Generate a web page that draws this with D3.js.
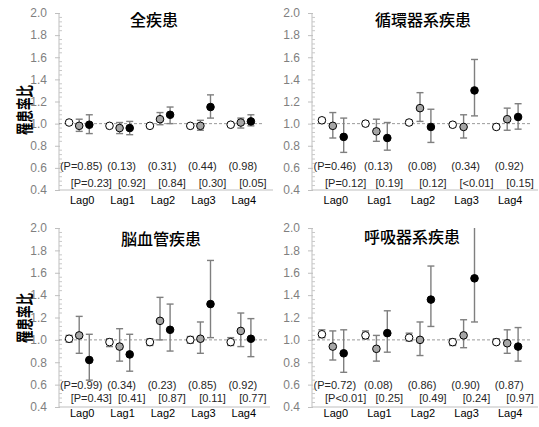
<!DOCTYPE html>
<html>
<head>
<meta charset="utf-8">
<script src="https://cdn.jsdelivr.net/npm/d3@7"></script>
<style>
body { margin: 0; background: #fff; }
text { font-family: "Liberation Sans", Arial, sans-serif; }
.jp { font-family: "Noto Sans CJK JP", sans-serif; }
</style>
</head>
<body>
<div class="container"></div>
<script>
var titles = ["全疾患", "循環器系疾患", "脳血管疾患", "呼吸器系疾患"];
var lags = ["Lag0", "Lag1", "Lag2", "Lag3", "Lag4"];
var yTicks = [0.4, 0.6, 0.8, 1.0, 1.2, 1.4, 1.6, 1.8, 2.0];

var pMain = [["(P=0.85)", "(0.13)", "(0.31)", "(0.44)", "(0.98)"],
             ["(P=0.46)", "(0.13)", "(0.08)", "(0.34)", "(0.92)"],
             ["(P=0.99)", "(0.34)", "(0.23)", "(0.85)", "(0.92)"],
             ["(P=0.72)", "(0.08)", "(0.86)", "(0.90)", "(0.87)"]];
var pSub = [["[P=0.23]", "[0.92]", "[0.84]", "[0.30]", "[0.05]"],
            ["[P=0.12]", "[0.19]", "[0.12]", "[<0.01]", "[0.15]"],
            ["[P=0.43]", "[0.41]", "[0.87]", "[0.11]", "[0.77]"],
            ["[P<0.01]", "[0.25]", "[0.49]", "[0.24]", "[0.97]"]];

// white markers
var openEst = [[1.01, 0.98, 0.98, 0.98, 0.99], [1.03, 1.00, 1.01, 0.99, 0.97],
               [1.01, 0.98, 0.98, 1.00, 0.98], [1.05, 1.04, 1.02, 0.98, 0.98]];
var openLo = [[1.00, 0.97, 0.97, 0.97, 0.98], [1.01, 0.98, 0.99, 0.97, 0.95],
              [0.98, 0.94, 0.95, 0.97, 0.95], [1.02, 1.01, 0.99, 0.95, 0.96]];
var openHi = [[1.02, 0.99, 0.99, 0.99, 1.00], [1.05, 1.02, 1.03, 1.01, 0.99],
              [1.04, 1.01, 1.01, 1.03, 1.02], [1.09, 1.08, 1.06, 1.01, 1.01]];
// grey markers
var greyEst = [[0.98, 0.96, 1.04, 0.98, 1.01], [0.98, 0.93, 1.14, 0.97, 1.04],
               [1.04, 0.94, 1.17, 1.01, 1.08], [0.94, 0.92, 1.00, 1.04, 0.97]];
var greyLo = [[0.93, 0.91, 0.99, 0.94, 0.96], [0.87, 0.84, 1.02, 0.87, 0.94],
              [0.88, 0.81, 1.00, 0.88, 0.94], [0.82, 0.81, 0.86, 0.93, 0.88]];
var greyHi = [[1.04, 1.01, 1.10, 1.03, 1.05], [1.10, 1.04, 1.28, 1.08, 1.14],
              [1.21, 1.10, 1.38, 1.16, 1.24], [1.08, 1.04, 1.16, 1.18, 1.09]];
// black markers
var blackEst = [[0.99, 0.96, 1.08, 1.15, 1.02], [0.88, 0.87, 0.97, 1.30, 1.06],
                [0.82, 0.87, 1.09, 1.32, 1.01], [0.88, 1.06, 1.36, 1.55, 0.94]];
var blackLo = [[0.91, 0.90, 1.00, 1.05, 0.98], [0.74, 0.76, 0.83, 1.07, 0.95],
               [0.64, 0.72, 0.90, 1.02, 0.85], [0.71, 0.89, 1.12, 1.16, 0.81]];
var blackHi = [[1.08, 1.02, 1.15, 1.26, 1.08], [1.05, 1.01, 1.13, 1.58, 1.18],
               [1.05, 1.05, 1.32, 1.71, 1.19], [1.09, 1.26, 1.66, 2.10, 1.11]];

var width = 539, height = 427;

var svg = d3.select("div.container").append("svg")
    .attr("width", width)
    .attr("height", height);

// panel frames
var panels = [
    {ax: 59,  xr: [59, 261],  refEnd: 262, baseEnd: 273, yr: [190, 13],  tx: 154, ty: 26,  r1: 170, r2: 187, lagY: 204, yl: 110},
    {ax: 312, xr: [311, 529], refEnd: 530, baseEnd: 538, yr: [190, 13],  tx: 423, ty: 26,  r1: 170, r2: 187, lagY: 204},
    {ax: 59,  xr: [59, 261],  refEnd: 268, baseEnd: 270, yr: [407, 228], tx: 161, ty: 245, r1: 389, r2: 402, lagY: 417, yl: 318},
    {ax: 312, xr: [311, 529], refEnd: 530, baseEnd: 538, yr: [407, 228], tx: 412, ty: 243, r1: 389, r2: 402, lagY: 417}
];

var series = [
    {est: openEst,  lo: openLo,  hi: openHi,  off: 0, fill: "#fff"},
    {est: greyEst,  lo: greyLo,  hi: greyHi,  off: 1, fill: "#a6a6a6"},
    {est: blackEst, lo: blackLo, hi: blackHi, off: 2, fill: "#000"}
];

panels.forEach(function(p, pi) {
    var x = d3.scaleLinear().domain([-1, 19]).range(p.xr);
    var y = d3.scaleLinear().domain([0.4, 2.0]).range(p.yr);
    var g = svg.append("g");

    // y axis with minor ticks
    var axis = d3.axisLeft(y).tickValues(yTicks).tickFormat(d3.format(".1f"))
        .tickSize(4).tickPadding(8);
    var ag = g.append("g").attr("transform", "translate(" + p.ax + ",0)").call(axis);
    ag.select(".domain").attr("stroke", "#bfbfbf").attr("d", "M0," + y(2.0) + "V" + y(0.4));
    ag.selectAll(".tick line").attr("stroke", "#bfbfbf").attr("x2", -4).attr("x1", 1);
    ag.selectAll(".tick text").attr("fill", "#7f7f7f").style("font-size", "12px")
        .style("font-family", "'Liberation Sans', Arial, sans-serif");
    var minors = d3.range(0.44, 2.0, 0.04).filter(function(v) {
        return Math.abs(Math.round(v * 5) - v * 5) > 0.01;
    });
    g.selectAll(".minor").data(minors).enter().append("line")
        .attr("x1", p.ax).attr("x2", p.ax + 3)
        .attr("y1", function(d) { return y(d); }).attr("y2", function(d) { return y(d); })
        .attr("stroke", "#c8c8c8");

    // baseline
    g.append("line")
        .attr("x1", p.ax).attr("x2", p.baseEnd)
        .attr("y1", y(0.4)).attr("y2", y(0.4))
        .attr("stroke", "#bfbfbf");

    // reference line at 1.0
    g.append("line")
        .attr("x1", p.ax).attr("x2", p.refEnd)
        .attr("y1", y(1)).attr("y2", y(1))
        .attr("stroke", "#808080").attr("stroke-width", 0.8)
        .attr("stroke-dasharray", "3,2");

    // title
    g.append("text").attr("class", "jp")
        .attr("x", p.tx).attr("y", p.ty)
        .attr("text-anchor", "middle")
        .style("font-size", "16px").style("font-weight", 500)
        .text(titles[pi]);

    if (p.yl) {
        g.append("text").attr("class", "jp")
            .attr("transform", "translate(23," + p.yl + ") rotate(-90)")
            .attr("text-anchor", "middle").attr("dominant-baseline", "central")
            .attr("textLength", 50).attr("lengthAdjust", "spacingAndGlyphs")
            .style("font-size", "17px").style("font-weight", 700)
            .text("罹患率比");
    }

    // error bars and markers
    series.forEach(function(s) {
        var rows = lags.map(function(l, i) {
            return {k: i * 4 + s.off, est: s.est[pi][i], lo: s.lo[pi][i], hi: s.hi[pi][i]};
        });
        var eg = g.append("g").attr("stroke", "#7f7f7f").attr("stroke-width", 1.4);
        eg.selectAll(".bar").data(rows).enter().append("line")
            .attr("x1", function(d) { return x(d.k); }).attr("x2", function(d) { return x(d.k); })
            .attr("y1", function(d) { return y(Math.min(d.hi, 2.0)); })
            .attr("y2", function(d) { return y(d.lo); });
        eg.selectAll(".capHi").data(rows.filter(function(d) { return d.hi <= 2.0; })).enter().append("line")
            .attr("x1", function(d) { return x(d.k) - 3.5; }).attr("x2", function(d) { return x(d.k) + 3.5; })
            .attr("y1", function(d) { return y(d.hi); }).attr("y2", function(d) { return y(d.hi); });
        eg.selectAll(".capLo").data(rows).enter().append("line")
            .attr("x1", function(d) { return x(d.k) - 3.5; }).attr("x2", function(d) { return x(d.k) + 3.5; })
            .attr("y1", function(d) { return y(d.lo); }).attr("y2", function(d) { return y(d.lo); });
        g.selectAll(".pt" + s.off).data(rows).enter().append("circle")
            .attr("cx", function(d) { return x(d.k); })
            .attr("cy", function(d) { return y(d.est); })
            .attr("r", 3.8)
            .attr("fill", s.fill)
            .attr("stroke", "#000").attr("stroke-width", 1);
    });

    // p-value labels
    g.selectAll(".pm").data(pMain[pi]).enter().append("text")
        .attr("x", function(d, i) { return x(i * 4 + 1) + 2; })
        .attr("y", p.r1).attr("text-anchor", "middle")
        .style("font-size", "11px").attr("fill", "#262626")
        .text(function(d) { return d; });
    g.selectAll(".ps").data(pSub[pi]).enter().append("text")
        .attr("x", function(d, i) { return x(i * 4 + 2) + 2; })
        .attr("y", p.r2).attr("text-anchor", "middle")
        .style("font-size", "11px").attr("fill", "#262626")
        .text(function(d) { return d; });

    // lag labels
    g.selectAll(".lag").data(lags).enter().append("text")
        .attr("x", function(d, i) { return x(i * 4 + 1) + 3; })
        .attr("y", p.lagY).attr("text-anchor", "middle")
        .style("font-size", "11px").attr("fill", "#000")
        .text(function(d) { return d; });
});
</script>
</body>
</html>
